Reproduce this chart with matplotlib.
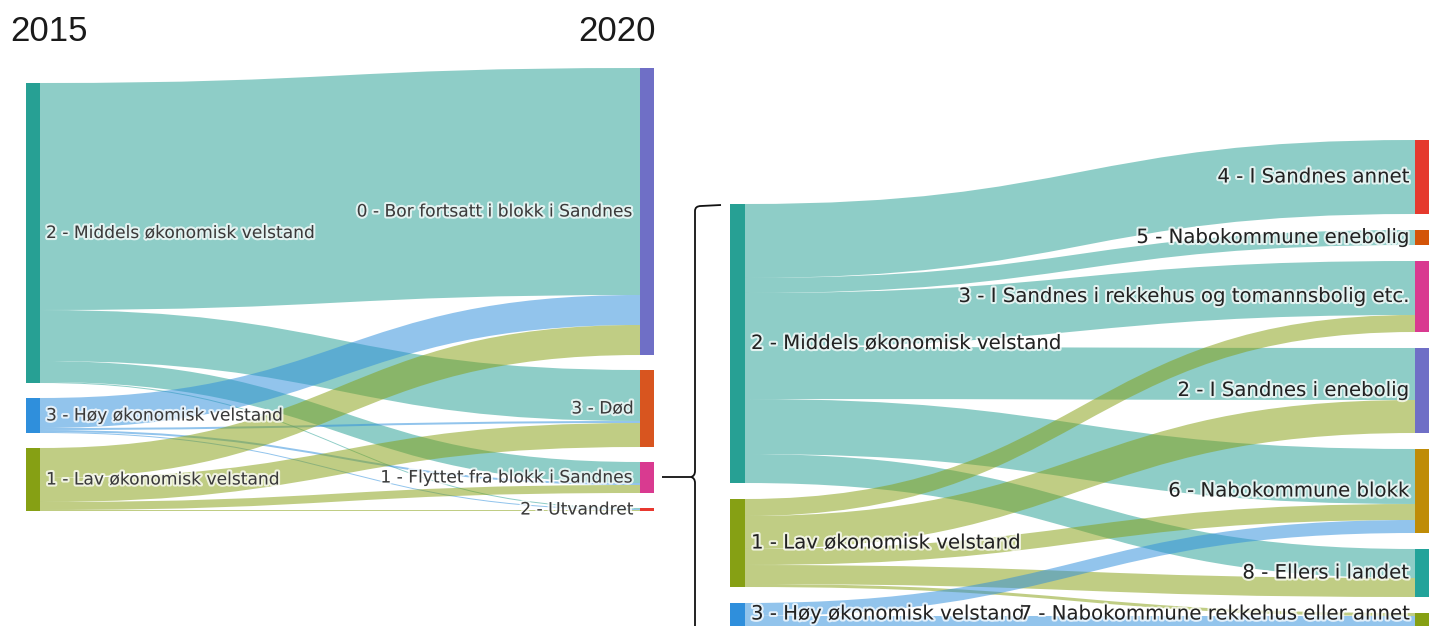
import matplotlib
matplotlib.use("Agg")
import matplotlib.pyplot as plt
from matplotlib.path import Path
from matplotlib.patches import PathPatch, Rectangle
import matplotlib.patheffects as pe
import numpy as np

# ---------------- data ----------------
year_left = "2015"
year_right = "2020"

left_sources = ["2 - Middels økonomisk velstand",
                "3 - Høy økonomisk velstand",
                "1 - Lav økonomisk velstand"]
left_targets = ["0 - Bor fortsatt i blokk i Sandnes",
                "3 - Død",
                "1 - Flyttet fra blokk i Sandnes",
                "2 - Utvandret"]
# rows: sources, cols: targets
left_values = [[227, 51, 21, 1],
               [30, 2, 2, 1],
               [30, 24, 8, 1]]

right_sources = ["2 - Middels økonomisk velstand",
                 "1 - Lav økonomisk velstand",
                 "3 - Høy økonomisk velstand"]
right_targets = ["4 - I Sandnes annet",
                 "5 - Nabokommune enebolig",
                 "3 - I Sandnes i rekkehus og tomannsbolig etc.",
                 "2 - I Sandnes i enebolig",
                 "6 - Nabokommune blokk",
                 "8 - Ellers i landet",
                 "7 - Nabokommune rekkehus eller annet"]
right_values = [[74, 15, 54, 52, 55, 29, 0],
                [0, 0, 17, 33, 16, 19, 3],
                [0, 0, 0, 0, 13, 0, 14]]

# ---------------- styles ----------------
C_MID = "#27a094"
C_HOY = "#2f8fdc"
C_LAV = "#86a014"
left_src_colors = [C_MID, C_HOY, C_LAV]
left_tgt_colors = ["#6f6fc6", "#d8551f", "#d93a90", "#e8382f"]
right_src_colors = [C_MID, C_LAV, C_HOY]
right_tgt_colors = ["#e53a2e", "#d35408", "#d93a90", "#6f6fc6",
                    "#bf8c08", "#22a39a", "#86a014"]

FIG_W, FIG_H = 1429, 626
fig = plt.figure(figsize=(FIG_W / 100, FIG_H / 100), dpi=100)
fig.patch.set_facecolor("white")

halo = [pe.withStroke(linewidth=3, foreground="white", alpha=0.75)]


def add_px_axes(x0, x1, y_top, y_bot):
    ax = fig.add_axes([x0 / FIG_W, 1 - y_bot / FIG_H,
                       (x1 - x0) / FIG_W, (y_bot - y_top) / FIG_H])
    ax.set_xlim(0, x1 - x0)
    ax.set_ylim(y_bot - y_top, 0)
    ax.axis("off")
    return ax


def draw_sankey(ax, sources, targets, values, src_colors, tgt_colors,
                node_w, gap, fontsize, label_pad=6, label_ymax=None,
                text_color="#2b2b2b"):
    vals = np.array(values, dtype=float)
    W = ax.get_xlim()[1]
    H = ax.get_ylim()[0]
    src_tot = vals.sum(axis=1)
    tgt_tot = vals.sum(axis=0)

    def stack(tots):
        total = tots.sum() + gap * (len(tots) - 1)
        y = H - total
        tops = []
        for t in tots:
            tops.append(y)
            y += t + gap
        return np.array(tops)

    s_top = stack(src_tot)
    t_top = stack(tgt_tot)

    xs = node_w
    xt = W - node_w
    xm = (xs + xt) / 2

    s_off = s_top.copy()
    links = []
    for i in range(len(sources)):
        for j in range(len(targets)):
            v = vals[i, j]
            if v <= 0:
                continue
            links.append((i, j, s_off[i], v))
            s_off[i] += v
    t_off = t_top.copy()
    tpos = {}
    for j in range(len(targets)):
        for i in range(len(sources)):
            v = vals[i, j]
            if v <= 0:
                continue
            tpos[(i, j)] = t_off[j]
            t_off[j] += v

    for (i, j, s0, v) in links:
        t0 = tpos[(i, j)]
        s1, t1 = s0 + v, t0 + v
        verts = [(xs, s0), (xm, s0), (xm, t0), (xt, t0),
                 (xt, t1), (xm, t1), (xm, s1), (xs, s1), (xs, s0)]
        codes = [Path.MOVETO, Path.CURVE4, Path.CURVE4, Path.CURVE4,
                 Path.LINETO, Path.CURVE4, Path.CURVE4, Path.CURVE4,
                 Path.CLOSEPOLY]
        ax.add_patch(PathPatch(Path(verts, codes), facecolor=src_colors[i],
                               edgecolor="none", alpha=0.52, zorder=1))

    def ly(y):
        return y if label_ymax is None else min(y, label_ymax)

    for i, name in enumerate(sources):
        ax.add_patch(Rectangle((0, s_top[i]), node_w, src_tot[i],
                               facecolor=src_colors[i], edgecolor="none",
                               zorder=3))
        ax.text(node_w + label_pad, ly(s_top[i] + src_tot[i] / 2), name,
                ha="left", va="center", fontsize=fontsize, color=text_color,
                family="DejaVu Sans", path_effects=halo, zorder=4)
    for j, name in enumerate(targets):
        ax.add_patch(Rectangle((xt, t_top[j]), node_w, tgt_tot[j],
                               facecolor=tgt_colors[j], edgecolor="none",
                               zorder=3))
        ax.text(xt - label_pad, ly(t_top[j] + tgt_tot[j] / 2), name,
                ha="right", va="center", fontsize=fontsize, color=text_color,
                family="DejaVu Sans", path_effects=halo, zorder=4)


# left sankey (2015 -> 2020)
ax1 = add_px_axes(26, 654, 68, 511)
draw_sankey(ax1, left_sources, left_targets, left_values,
            left_src_colors, left_tgt_colors, node_w=14, gap=15,
            fontsize=12.3, label_pad=6, text_color="#3a3a3a")

# right sankey (breakdown of "Flyttet fra blokk i Sandnes")
ax2 = add_px_axes(730, 1430, 140, 630)
draw_sankey(ax2, right_sources, right_targets, right_values,
            right_src_colors, right_tgt_colors, node_w=15, gap=16,
            fontsize=14.2, label_pad=6, label_ymax=474,
            text_color="#222222")

# years
fig.text(10 / FIG_W, 1 - 15 / FIG_H, year_left, ha="left", va="top",
         fontsize=25, family="Liberation Sans", color="#1a1a1a")
fig.text(656 / FIG_W, 1 - 15 / FIG_H, year_right, ha="right", va="top",
         fontsize=25, family="Liberation Sans", color="#1a1a1a")

# bracket
axo = fig.add_axes([0, 0, 1, 1], facecolor="none")
axo.set_xlim(0, FIG_W)
axo.set_ylim(FIG_H, 0)
axo.axis("off")
bx, by = 695, 477
verts = [(bx, 640), (bx, by + 6), (bx, by + 1), (bx - 4, by),
         (662, by)]
codes = [Path.MOVETO, Path.LINETO, Path.CURVE3, Path.CURVE3, Path.LINETO]
axo.add_patch(PathPatch(Path(verts, codes), facecolor="none",
                        edgecolor="#111111", lw=1.3))
verts = [(bx - 4, by), (bx, by - 1), (bx, by - 6), (bx, 211),
         (bx, 206), (bx + 6, 206), (721, 205)]
codes = [Path.MOVETO, Path.CURVE3, Path.CURVE3, Path.LINETO,
         Path.CURVE3, Path.CURVE3, Path.LINETO]
axo.add_patch(PathPatch(Path(verts, codes), facecolor="none",
                        edgecolor="#111111", lw=1.3))

fig.savefig("out.png", dpi=100, facecolor="white")
